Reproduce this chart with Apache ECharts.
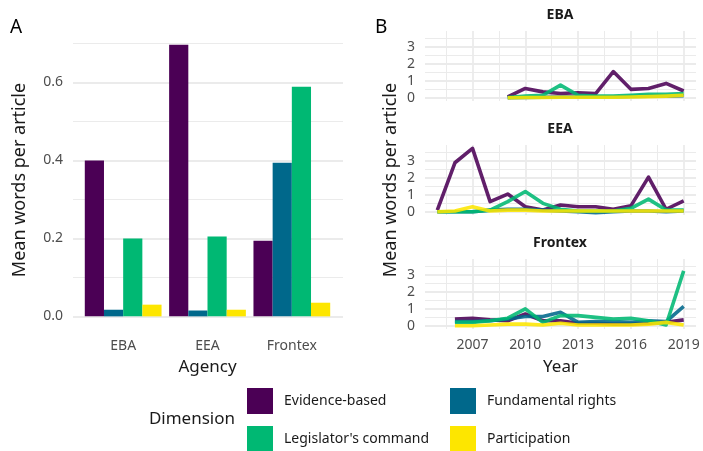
<!DOCTYPE html>
<html lang="en">
<head>
    <meta charset="UTF-8">
    <title>Mean words per article</title>
    <script src="https://cdn.jsdelivr.net/npm/echarts@6/dist/echarts.min.js"></script>
    <style>
        * { margin: 0; padding: 0; }
        body { background: #fff; }
        #chart { width: 703px; height: 451px; }
    </style>
</head>
<body>
<div id="chart"></div>
<script>
    // ---- data ----
    const agencies = ['EBA', 'EEA', 'Frontex'];
    const dimensions = ['Evidence-based', 'Fundamental rights', "Legislator's command", 'Participation'];
    const dimColors = ['#4B0055', '#00688B', '#00B873', '#FDE600'];

    // panel A: mean over the whole period
    const barEvidence = [0.400, 0.697, 0.194];
    const barFundamental = [0.017, 0.015, 0.394];
    const barLegislator = [0.200, 0.205, 0.589];
    const barParticipation = [0.030, 0.017, 0.035];

    // panel B: by year
    const years = [2005, 2006, 2007, 2008, 2009, 2010, 2011, 2012, 2013, 2014, 2015, 2016, 2017, 2018, 2019];

    const ebaEvidence = [null, null, null, null, 0.05, 0.55, 0.35, 0.25, 0.3, 0.25, 1.55, 0.5, 0.55, 0.85, 0.4];
    const ebaFundamental = [null, null, null, null, 0, 0.02, 0.03, 0.05, 0.05, 0.05, 0.05, 0.08, 0.1, 0.1, 0.12];
    const ebaLegislator = [null, null, null, null, 0.02, 0.1, 0.15, 0.75, 0.15, 0.1, 0.1, 0.15, 0.2, 0.2, 0.25];
    const ebaParticipation = [null, null, null, null, 0, 0.02, 0.02, 0.03, 0.03, 0.03, 0.03, 0.05, 0.07, 0.1, 0.15];

    const eeaEvidence = [0.1, 2.9, 3.75, 0.6, 1.05, 0.3, 0.1, 0.4, 0.3, 0.3, 0.15, 0.35, 2.05, 0.15, 0.65];
    const eeaFundamental = [0, 0, 0, 0.1, 0.15, 0.15, 0.1, 0.05, 0, -0.05, 0, 0.05, 0.05, 0, 0.05];
    const eeaLegislator = [0, 0, 0, 0.1, 0.6, 1.2, 0.5, 0.15, 0.05, 0.05, 0.05, 0.2, 0.75, 0.1, 0.1];
    const eeaParticipation = [0, 0.05, 0.3, 0.05, 0.1, 0.1, 0.05, 0.05, 0.05, 0.05, 0.05, 0.05, 0.05, 0.05, 0.05];

    const fxEvidence = [null, 0.4, 0.45, 0.35, 0.3, 0.7, 0.3, 0.3, 0.15, 0.15, 0.1, 0.1, 0.15, 0.2, 0.35];
    const fxFundamental = [null, 0.25, 0.25, 0.3, 0.4, 0.55, 0.55, 0.8, 0.2, 0.25, 0.25, 0.2, 0.3, 0.25, 1.15];
    const fxLegislator = [null, 0.2, 0.2, 0.3, 0.45, 1.0, 0.2, 0.6, 0.6, 0.5, 0.4, 0.45, 0.3, 0.05, 3.25];
    const fxParticipation = [null, 0, 0, 0.05, 0.1, 0.1, 0.05, 0.15, 0.05, 0.05, 0.05, 0.05, 0.1, 0.2, 0.05];

    // ticks / gridlines
    const barTicks = [0, 0.2, 0.4, 0.6];
    const barMinor = [0.1, 0.3, 0.5, 0.7];
    const yearTicks = [2007, 2010, 2013, 2016, 2019];
    const yearMinor = [2005.5, 2008.5, 2011.5, 2014.5, 2017.5];
    const facetTicks = [0, 1, 2, 3];
    const facetMinor = [0.5, 1.5, 2.5, 3.5];

    const FONT = 'Noto Sans';
    const GRID_COL = '#ebebeb';

    // gridlines drawn as markLines under everything else
    function gridLines(key, majors, minors) {
        const d = [];
        majors.forEach(v => d.push({ [key]: v, lineStyle: { color: GRID_COL, width: 1.8, type: 'solid' } }));
        minors.forEach(v => d.push({ [key]: v, lineStyle: { color: GRID_COL, width: 1, type: 'solid' } }));
        return { silent: true, symbol: 'none', label: { show: false }, animation: false, z: 0, zlevel: 0, data: d };
    }

    const chart = echarts.init(document.getElementById('chart'));

    const facets = [
        { name: 'EBA', top: 31, data: [ebaEvidence, ebaFundamental, ebaLegislator, ebaParticipation] },
        { name: 'EEA', top: 145, data: [eeaEvidence, eeaFundamental, eeaLegislator, eeaParticipation] },
        { name: 'Frontex', top: 259, data: [fxEvidence, fxFundamental, fxLegislator, fxParticipation] }
    ];
    const barData = [barEvidence, barFundamental, barLegislator, barParticipation];

    const grids = [
        { left: 73, top: 31, width: 270, height: 299 },   // A background (gridlines)
        { left: 81, top: 31, width: 253, height: 299 }    // A bars
    ];
    const xAxes = [
        { gridIndex: 0, type: 'value', min: 0, max: 1, show: false },
        {
            gridIndex: 1, type: 'category', data: agencies,
            axisLine: { show: false }, axisTick: { show: false },
            axisLabel: { fontFamily: FONT, fontSize: 14, color: '#4d4d4d', margin: 9 },
            name: 'Agency', nameLocation: 'middle', nameGap: 29,
            nameTextStyle: { fontFamily: FONT, fontSize: 17, color: '#1a1a1a' }
        }
    ];
    const yAxes = [
        {
            gridIndex: 0, type: 'value', min: -0.035, max: 0.732,
            splitLine: { show: false }, axisLine: { show: false }, axisTick: { show: false },
            axisLabel: {
                customValues: barTicks, fontFamily: FONT, fontSize: 14, color: '#4d4d4d', margin: 10,
                formatter: v => v.toFixed(1)
            }
        },
        { gridIndex: 1, type: 'value', min: -0.035, max: 0.732, show: false, splitLine: { show: false } }
    ];
    const series = [];

    // gridline carrier for panel A
    series.push({
        type: 'line', xAxisIndex: 0, yAxisIndex: 0, data: [], z: 0,
        markLine: gridLines('yAxis', barTicks, barMinor)
    });

    dimensions.forEach((d, i) => {
        series.push({
            name: d, type: 'bar', xAxisIndex: 1, yAxisIndex: 1,
            data: barData[i], barGap: '0%', barCategoryGap: '9%',
            itemStyle: { color: dimColors[i] }, z: 2
        });
    });

    facets.forEach((f, k) => {
        const gi = grids.length;
        grids.push({ left: 425, right: 7, top: f.top, height: 70 });
        const last = k === facets.length - 1;
        xAxes.push({
            gridIndex: gi, type: 'value', min: 2004.3, max: 2019.7,
            splitLine: { show: false }, axisLine: { show: false }, axisTick: { show: false },
            axisLabel: {
                show: last, customValues: yearTicks, fontFamily: FONT, fontSize: 14,
                color: '#4d4d4d', margin: 9, formatter: v => String(v)
            },
            name: last ? 'Year' : '', nameLocation: 'middle', nameGap: 30,
            nameTextStyle: { fontFamily: FONT, fontSize: 17, color: '#1a1a1a' }
        });
        yAxes.push({
            gridIndex: gi, type: 'value', min: -0.19, max: 3.95,
            splitLine: { show: false }, axisLine: { show: false }, axisTick: { show: false },
            axisLabel: { customValues: facetTicks, fontFamily: FONT, fontSize: 14, color: '#4d4d4d', margin: 10 }
        });
        // gridlines for this facet
        series.push({
            type: 'line', xAxisIndex: gi, yAxisIndex: gi, data: [], z: 0,
            markLine: gridLines('yAxis', facetTicks, facetMinor)
        });
        series.push({
            type: 'line', xAxisIndex: gi, yAxisIndex: gi, data: [], z: 0,
            markLine: gridLines('xAxis', yearTicks, yearMinor)
        });
        dimensions.forEach((d, i) => {
            const pts = [];
            years.forEach((y, j) => { if (f.data[i][j] !== null) pts.push([y, f.data[i][j]]); });
            series.push({
                name: d, type: 'line', xAxisIndex: gi, yAxisIndex: gi,
                data: pts, showSymbol: false, symbol: 'none', z: 2 + i,
                itemStyle: { color: dimColors[i] },
                lineStyle: { color: dimColors[i], width: 3.6, opacity: 0.88, join: 'round' }
            });
        });
    });

    const titleStyle = { fontFamily: FONT, fontSize: 14, fontWeight: 'bold', fill: '#1a1a1a', align: 'center', verticalAlign: 'middle' };
    const legendText = { fontFamily: FONT, fontSize: 14, color: '#1a1a1a', padding: [0, 0, 0, 6] };
    const legendPos = [[247, 388], [450, 388], [247, 426], [450, 426]];

    const option = {
        animation: false,
        backgroundColor: '#ffffff',
        textStyle: { fontFamily: FONT },
        grid: grids,
        xAxis: xAxes,
        yAxis: yAxes,
        series: series,
        // one legend per key so the 2x2 layout lines up like the original
        legend: dimensions.map((d, i) => ({
            left: legendPos[i][0], top: legendPos[i][1], icon: 'rect', padding: 0,
            itemWidth: 26, itemHeight: 26, data: [d], textStyle: legendText
        })),
        graphic: [
            { type: 'text', x: 10, y: 28, style: { text: 'A', fontFamily: FONT, fontSize: 19, fill: '#000', verticalAlign: 'middle' } },
            { type: 'text', x: 375, y: 28, style: { text: 'B', fontFamily: FONT, fontSize: 19, fill: '#000', verticalAlign: 'middle' } },
            { type: 'text', x: 20, y: 180, rotation: Math.PI / 2, style: { text: 'Mean words per article', fontFamily: FONT, fontSize: 18, fill: '#1a1a1a', align: 'center', verticalAlign: 'middle' } },
            { type: 'text', x: 391, y: 180, rotation: Math.PI / 2, style: { text: 'Mean words per article', fontFamily: FONT, fontSize: 18, fill: '#1a1a1a', align: 'center', verticalAlign: 'middle' } },
            { type: 'text', x: 560, y: 15, style: Object.assign({ text: 'EBA' }, titleStyle) },
            { type: 'text', x: 560, y: 129, style: Object.assign({ text: 'EEA' }, titleStyle) },
            { type: 'text', x: 560, y: 243, style: Object.assign({ text: 'Frontex' }, titleStyle) },
            { type: 'text', x: 235, y: 419, style: { text: 'Dimension', fontFamily: FONT, fontSize: 17, fill: '#1a1a1a', align: 'right', verticalAlign: 'middle' } }
        ]
    };
    chart.setOption(option);
</script>
</body>
</html>
